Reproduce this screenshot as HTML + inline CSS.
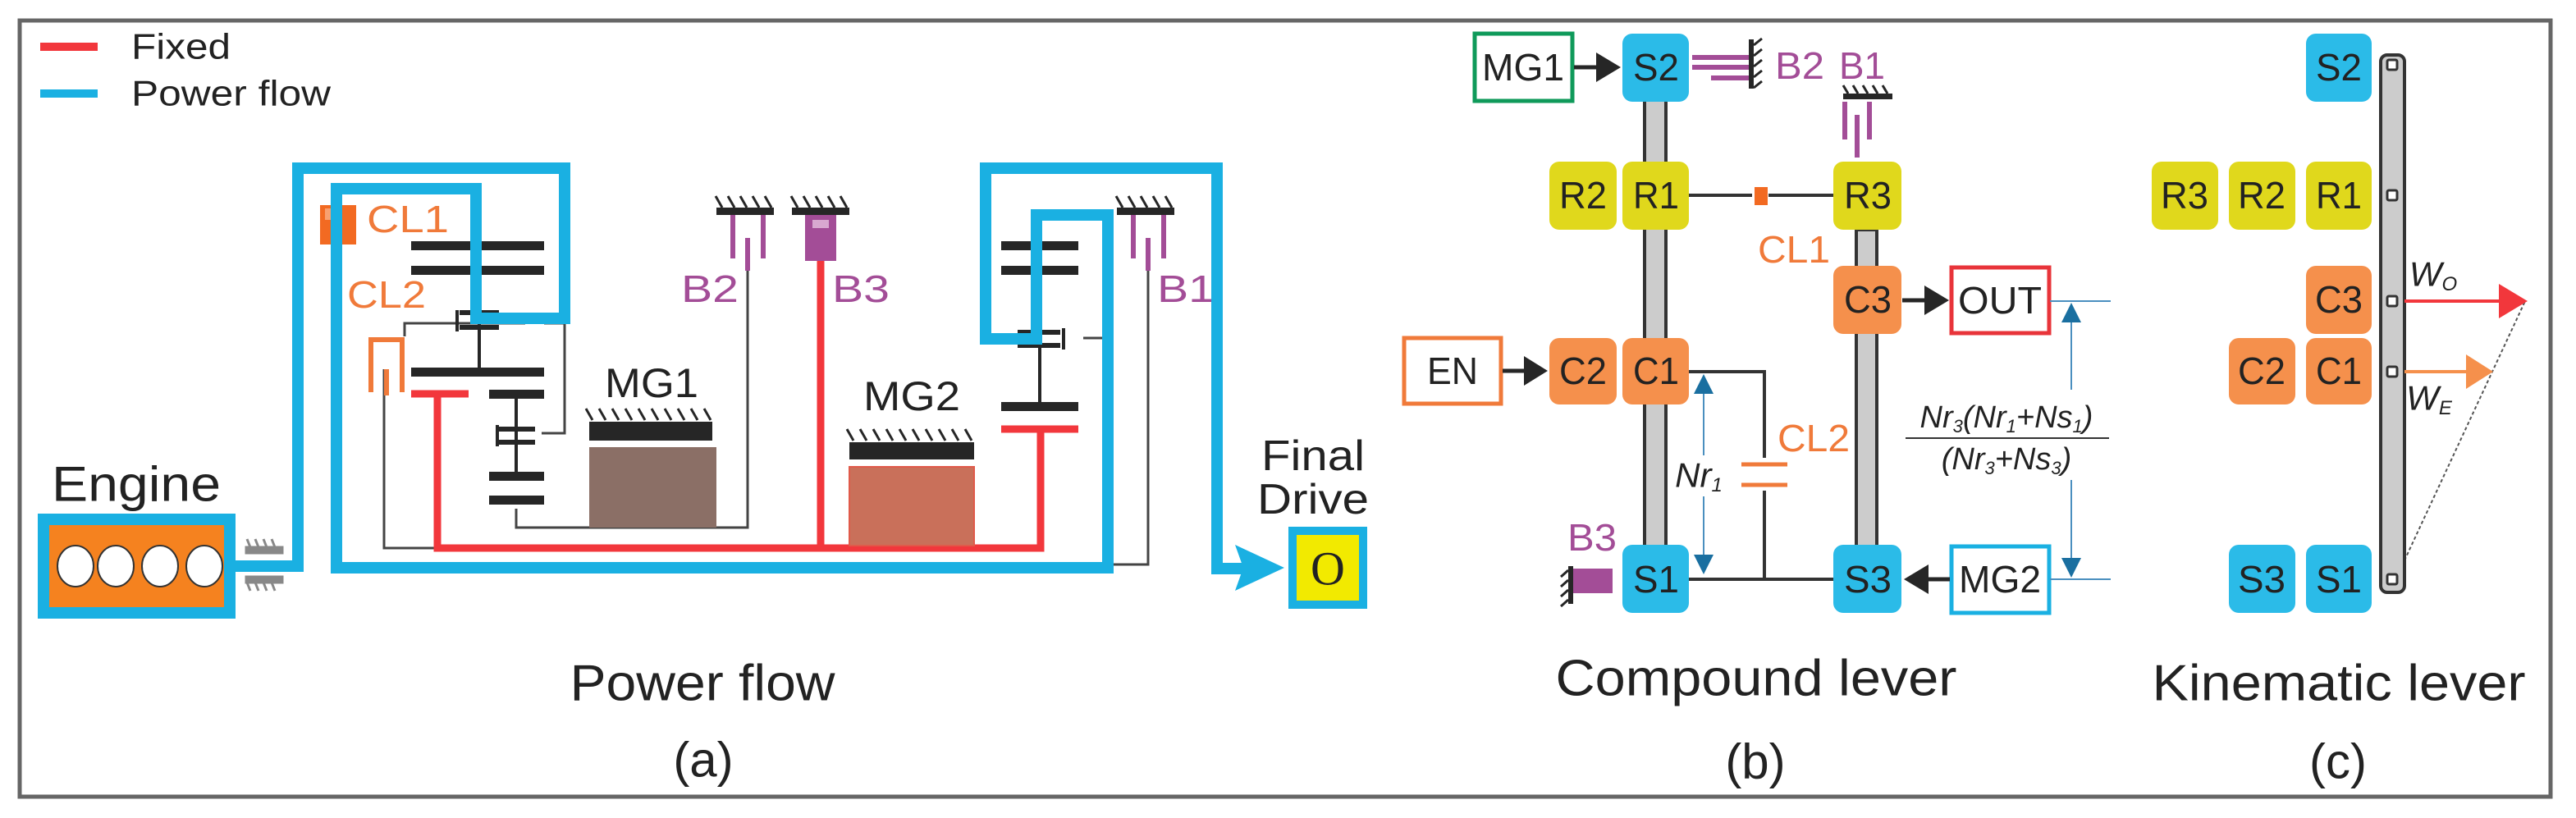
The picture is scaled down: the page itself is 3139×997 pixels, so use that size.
<!DOCTYPE html>
<html><head><meta charset="utf-8"><style>
html,body{margin:0;padding:0;background:#fff;}
svg{display:block}
text{font-family:"Liberation Sans",sans-serif;}
.n{font-size:46px;text-anchor:middle;dominant-baseline:central;fill:#222}
.lab{text-anchor:middle;dominant-baseline:central}
</style></head><body>
<svg width="3139" height="997" viewBox="0 0 3139 997" xmlns="http://www.w3.org/2000/svg">
<rect x="0" y="0" width="3139" height="997" fill="#fff"/>
<rect x="24" y="25" width="3084" height="946" fill="none" stroke="#666" stroke-width="5"/>

<!-- legend -->
<line x1="49" y1="57" x2="119" y2="57" stroke="#f2373c" stroke-width="10"/>
<line x1="49" y1="114" x2="119" y2="114" stroke="#1ab0e2" stroke-width="10"/>
<text x="160" y="57" class="lab" style="text-anchor:start;font-size:44px" textLength="121" lengthAdjust="spacingAndGlyphs" fill="#222">Fixed</text>
<text x="160" y="114" class="lab" style="text-anchor:start;font-size:44px" textLength="243" lengthAdjust="spacingAndGlyphs" fill="#222">Power flow</text>

<!-- thin black lines (a) -->
<g stroke="#444" stroke-width="3" fill="none">
<polyline points="493,410 493,394 640,394"/>
<polyline points="663,394 688,394 688,528 660,528"/>
<polyline points="468,450 468,668 533,668"/>
<polyline points="629,620 629,643 911,643 911,300"/>
<polyline points="1399,300 1399,688 1350,688"/>
<polyline points="1320,412 1350,412"/>
</g>

<!-- black gears (a) -->
<g fill="#262626">
<rect x="501" y="294" width="162" height="11"/>
<rect x="501" y="324" width="162" height="11"/>
<rect x="501" y="448" width="162" height="11"/>
<rect x="596" y="475" width="67" height="11"/>
<rect x="596" y="575" width="67" height="11"/>
<rect x="596" y="604" width="67" height="11"/>
<rect x="582" y="386" width="4" height="66"/>
<rect x="627" y="486" width="4" height="94"/>
<rect x="1220" y="294" width="94" height="11"/>
<rect x="1220" y="324" width="94" height="11"/>
<rect x="1220" y="490" width="94" height="11"/>
<rect x="1265" y="412" width="4" height="80"/>
<!-- planet pins -->
<rect x="560" y="378" width="48" height="6"/><rect x="560" y="396" width="48" height="6"/><rect x="555" y="378" width="4" height="26"/>
<rect x="608" y="520" width="44" height="6"/><rect x="608" y="536" width="44" height="6"/><rect x="604" y="518" width="4" height="26"/>
<rect x="1240" y="402" width="52" height="6"/><rect x="1240" y="418" width="52" height="6"/><rect x="1294" y="400" width="4" height="26"/>
</g>

<!-- red fixed -->
<g stroke="#f2373c" stroke-width="9" fill="none">
<line x1="501" y1="480" x2="571" y2="480"/>
<polyline points="533,480 533,668 1268,668 1268,523"/>
<line x1="1220" y1="523" x2="1314" y2="523"/>
<line x1="1000" y1="315" x2="1000" y2="668"/>
</g>

<!-- MG1 / MG2 -->
<g stroke="#262626" stroke-width="3">
<path d="M722,512 l-8,-14 M738,512 l-8,-14 M754,512 l-8,-14 M770,512 l-8,-14 M786,512 l-8,-14 M802,512 l-8,-14 M818,512 l-8,-14 M834,512 l-8,-14 M850,512 l-8,-14 M866,512 l-8,-14"/>
<path d="M1040,537 l-8,-14 M1056,537 l-8,-14 M1072,537 l-8,-14 M1088,537 l-8,-14 M1104,537 l-8,-14 M1120,537 l-8,-14 M1136,537 l-8,-14 M1152,537 l-8,-14 M1168,537 l-8,-14 M1184,537 l-8,-14"/>
</g>
<rect x="718" y="514" width="150" height="23" fill="#262626"/>
<rect x="718" y="545" width="155" height="98" fill="#8b6f66"/>
<rect x="1035" y="539" width="152" height="21" fill="#262626"/>
<rect x="1035" y="569" width="152" height="96" fill="#c9705a" stroke="#e05a4a" stroke-width="2"/>
<text x="794" y="467" class="lab" style="font-size:50px" textLength="114" lengthAdjust="spacingAndGlyphs" fill="#222">MG1</text>
<text x="1111" y="483" class="lab" style="font-size:50px" textLength="118" lengthAdjust="spacingAndGlyphs" fill="#222">MG2</text>

<!-- grounds B2 B3 B1 -->
<g fill="#262626"><rect x="873" y="253" width="70" height="9"/><rect x="965" y="253" width="70" height="9"/><rect x="1361" y="253" width="70" height="9"/></g>
<g stroke="#262626" stroke-width="3">
<path d="M880,253 l-8,-14 M895,253 l-8,-14 M910,253 l-8,-14 M925,253 l-8,-14 M940,253 l-8,-14"/>
<path d="M972,253 l-8,-14 M987,253 l-8,-14 M1002,253 l-8,-14 M1017,253 l-8,-14 M1032,253 l-8,-14"/>
<path d="M1368,253 l-8,-14 M1383,253 l-8,-14 M1398,253 l-8,-14 M1413,253 l-8,-14 M1428,253 l-8,-14"/>
</g>
<g stroke="#a34d97" stroke-width="6">
<line x1="893" y1="262" x2="893" y2="315"/><line x1="930" y1="262" x2="930" y2="315"/><line x1="911" y1="290" x2="911" y2="330"/>
<line x1="1381" y1="262" x2="1381" y2="315"/><line x1="1418" y1="262" x2="1418" y2="315"/><line x1="1399" y1="290" x2="1399" y2="330"/>
</g>
<rect x="981" y="262" width="38" height="56" fill="#a34d97"/>
<rect x="990" y="268" width="20" height="10" fill="#d8a8d0"/>
<text x="865" y="352" class="lab" style="font-size:46px" textLength="70" lengthAdjust="spacingAndGlyphs" fill="#a34d97">B2</text>
<text x="1049" y="352" class="lab" style="font-size:46px" textLength="70" lengthAdjust="spacingAndGlyphs" fill="#a34d97">B3</text>
<text x="1445" y="352" class="lab" style="font-size:46px" textLength="70" lengthAdjust="spacingAndGlyphs" fill="#a34d97">B1</text>

<!-- CL1 CL2 -->
<rect x="390" y="250" width="44" height="48" fill="#f26a22"/>
<rect x="396" y="254" width="12" height="14" fill="#f8a070"/>
<text x="497" y="267" class="lab" style="font-size:46px" textLength="100" lengthAdjust="spacingAndGlyphs" fill="#f07a3a">CL1</text>
<text x="471" y="359" class="lab" style="font-size:46px" textLength="96" lengthAdjust="spacingAndGlyphs" fill="#f07a3a">CL2</text>
<g stroke="#f07a3a" stroke-width="6" fill="none">
<polyline points="452,478 452,414 490,414 490,478"/>
<line x1="471" y1="450" x2="471" y2="482"/>
</g>

<!-- blue power flow -->
<g stroke="#1ab0e2" stroke-width="14" fill="none" stroke-linejoin="miter">
<polyline points="287,690 363,690 363,205 688,205 688,388 580,388 580,230 410,230 410,692 1350,692 1350,262 1263,262 1263,413 1201,413 1201,205 1483,205 1483,693 1520,693"/>
</g>
<polygon points="1505,664 1565,692 1505,720 1515,692" fill="#1ab0e2"/>

<!-- engine -->
<text x="166" y="590" class="lab" style="font-size:60px" textLength="206" lengthAdjust="spacingAndGlyphs" fill="#222">Engine</text>
<rect x="53" y="633" width="227" height="114" fill="#f5821f" stroke="#1ab0e2" stroke-width="14"/>
<g fill="#fff" stroke="#333" stroke-width="2">
<ellipse cx="92" cy="690" rx="22" ry="25"/><ellipse cx="141" cy="690" rx="22" ry="25"/><ellipse cx="195" cy="690" rx="22" ry="25"/><ellipse cx="249" cy="690" rx="22" ry="25"/>
</g>
<g stroke="#888" stroke-width="3">
<rect x="300" y="667" width="44" height="7" fill="#888"/>
<rect x="300" y="703" width="44" height="7" fill="#888"/>
<path d="M305,667 l-4,-10 M315,667 l-4,-10 M325,667 l-4,-10 M335,667 l-4,-10 M305,720 l-4,-10 M315,720 l-4,-10 M325,720 l-4,-10 M335,720 l-4,-10"/>
</g>

<!-- final drive -->
<text x="1600" y="556" class="lab" style="font-size:52px" textLength="126" lengthAdjust="spacingAndGlyphs" fill="#222">Final</text>
<text x="1600" y="609" class="lab" style="font-size:52px" textLength="136" lengthAdjust="spacingAndGlyphs" fill="#222">Drive</text>
<rect x="1575" y="647" width="86" height="90" fill="#f2ea00" stroke="#1ab0e2" stroke-width="10"/>
<text x="1618" y="693" class="lab" style="font-size:58px;font-family:'Liberation Serif',serif" fill="#222">O</text>

<text x="856" y="833" class="lab" style="font-size:62px" textLength="323" lengthAdjust="spacingAndGlyphs" fill="#222">Power flow</text>
<text x="857" y="926" class="lab" style="font-size:60px" fill="#222">(a)</text>

<!-- ===== (b) compound lever ===== -->
<rect x="2004" y="120" width="26" height="548" fill="#ccc" stroke="#333" stroke-width="4"/>
<rect x="2262" y="280" width="25" height="388" fill="#ccc" stroke="#333" stroke-width="4"/>
<g stroke="#333" stroke-width="4" fill="none">
<line x1="2058" y1="238" x2="2234" y2="238"/>
<polyline points="2058,453 2150,453 2150,706"/>
<line x1="2058" y1="706" x2="2234" y2="706"/>
</g>
<rect x="2135" y="230" width="20" height="18" fill="#fff"/>
<rect x="2138" y="228" width="16" height="22" fill="#f26a22"/>
<rect x="2126" y="558" width="50" height="40" fill="#fff"/>
<g stroke="#f07a3a" stroke-width="5"><line x1="2122" y1="566" x2="2178" y2="566"/><line x1="2122" y1="591" x2="2178" y2="591"/></g>
<text x="2186" y="304" class="lab" style="font-size:46px" textLength="88" lengthAdjust="spacingAndGlyphs" fill="#f07a3a">CL1</text>
<text x="2210" y="534" class="lab" style="font-size:46px" textLength="88" lengthAdjust="spacingAndGlyphs" fill="#f07a3a">CL2</text>

<!-- B2 B1 B3 -->
<g stroke="#a34d97" stroke-width="6">
<line x1="2062" y1="70" x2="2131" y2="70"/><line x1="2062" y1="82" x2="2131" y2="82"/><line x1="2085" y1="95" x2="2131" y2="95"/>
<line x1="2248" y1="124" x2="2248" y2="170"/><line x1="2278" y1="124" x2="2278" y2="170"/><line x1="2263" y1="140" x2="2263" y2="192"/>
</g>
<rect x="2131" y="48" width="6" height="60" fill="#262626"/>
<path d="M2137,55 l10,-8 M2137,68 l10,-8 M2137,81 l10,-8 M2137,94 l10,-8 M2137,107 l10,-8" stroke="#262626" stroke-width="3"/>
<rect x="2246" y="114" width="60" height="7" fill="#262626"/>
<path d="M2252,114 l-6,-10 M2264,114 l-6,-10 M2276,114 l-6,-10 M2288,114 l-6,-10 M2300,114 l-6,-10" stroke="#262626" stroke-width="3"/>
<text x="2193" y="80" class="lab" style="font-size:46px" textLength="60" lengthAdjust="spacingAndGlyphs" fill="#a34d97">B2</text>
<text x="2269" y="80" class="lab" style="font-size:46px" textLength="56" lengthAdjust="spacingAndGlyphs" fill="#a34d97">B1</text>
<rect x="1911" y="690" width="6" height="46" fill="#262626"/>
<path d="M1911,695 l-9,8 M1911,707 l-9,8 M1911,719 l-9,8 M1911,731 l-9,8" stroke="#262626" stroke-width="3"/>
<rect x="1917" y="693" width="48" height="30" fill="#a34d97"/>
<text x="1940" y="655" class="lab" style="font-size:46px" textLength="60" lengthAdjust="spacingAndGlyphs" fill="#a34d97">B3</text>

<!-- nodes b -->
<g>
<rect x="1977" y="41" width="81" height="83" rx="12" fill="#2bbbe8"/>
<rect x="1888" y="197" width="82" height="83" rx="12" fill="#e0d81c"/>
<rect x="1977" y="197" width="81" height="83" rx="12" fill="#e0d81c"/>
<rect x="2234" y="197" width="83" height="83" rx="12" fill="#e0d81c"/>
<rect x="2234" y="324" width="83" height="83" rx="12" fill="#f5904c"/>
<rect x="1888" y="412" width="82" height="81" rx="12" fill="#f5904c"/>
<rect x="1977" y="412" width="81" height="81" rx="12" fill="#f5904c"/>
<rect x="1977" y="664" width="81" height="83" rx="12" fill="#2bbbe8"/>
<rect x="2234" y="664" width="83" height="83" rx="12" fill="#2bbbe8"/>
</g>
<text x="2018" y="82" class="n" textLength="56" lengthAdjust="spacingAndGlyphs">S2</text>
<text x="1929" y="238" class="n" textLength="58" lengthAdjust="spacingAndGlyphs">R2</text>
<text x="2018" y="238" class="n" textLength="56" lengthAdjust="spacingAndGlyphs">R1</text>
<text x="2276" y="238" class="n" textLength="58" lengthAdjust="spacingAndGlyphs">R3</text>
<text x="2276" y="365" class="n" textLength="58" lengthAdjust="spacingAndGlyphs">C3</text>
<text x="1929" y="452" class="n" textLength="58" lengthAdjust="spacingAndGlyphs">C2</text>
<text x="2018" y="452" class="n" textLength="56" lengthAdjust="spacingAndGlyphs">C1</text>
<text x="2018" y="706" class="n" textLength="56" lengthAdjust="spacingAndGlyphs">S1</text>
<text x="2276" y="706" class="n" textLength="58" lengthAdjust="spacingAndGlyphs">S3</text>

<!-- boxes -->
<rect x="1797" y="41" width="119" height="82" fill="#fff" stroke="#0f9a5a" stroke-width="5"/>
<text x="1856" y="82" class="n" textLength="100" lengthAdjust="spacingAndGlyphs">MG1</text>
<rect x="2378" y="326" width="119" height="80" fill="#fff" stroke="#e8343a" stroke-width="5"/>
<text x="2437" y="366" class="n" textLength="102" lengthAdjust="spacingAndGlyphs">OUT</text>
<rect x="1711" y="412" width="118" height="80" fill="#fff" stroke="#f07a3a" stroke-width="5"/>
<text x="1770" y="452" class="n" textLength="62" lengthAdjust="spacingAndGlyphs">EN</text>
<rect x="2378" y="666" width="119" height="81" fill="#fff" stroke="#1ab0e2" stroke-width="5"/>
<text x="2437" y="706" class="n" textLength="100" lengthAdjust="spacingAndGlyphs">MG2</text>
<!-- arrows -->
<g stroke="#262626" stroke-width="5"><line x1="1918" y1="82" x2="1950" y2="82"/><line x1="1831" y1="452" x2="1862" y2="452"/><line x1="2318" y1="366" x2="2350" y2="366"/><line x1="2376" y1="706" x2="2345" y2="706"/></g>
<g fill="#262626">
<polygon points="1945,64 1975,82 1945,100"/>
<polygon points="1857,434 1886,452 1857,470"/>
<polygon points="2345,348 2375,366 2345,384"/>
<polygon points="2350,688 2320,706 2350,724"/>
</g>

<!-- dimensions -->
<g stroke="#4a8fbf" stroke-width="2"><line x1="2076" y1="470" x2="2076" y2="690"/><line x1="2498" y1="367" x2="2572" y2="367"/><line x1="2498" y1="706" x2="2572" y2="706"/><line x1="2524" y1="380" x2="2524" y2="690"/></g>
<g fill="#1a6fa0">
<polygon points="2064,480 2076,456 2088,480"/><polygon points="2064,676 2076,700 2088,676"/>
<polygon points="2512,393 2524,369 2536,393"/><polygon points="2512,680 2524,704 2536,680"/>
</g>
<rect x="2042" y="555" width="66" height="50" fill="#fff"/>
<text x="2070" y="579" class="lab" style="font-size:42px;font-style:italic" fill="#222">Nr<tspan font-size="24" dy="12">1</tspan></text>
<rect x="2322" y="475" width="250" height="110" fill="#fff"/>
<text x="2445" y="509" class="lab" style="font-size:38px;font-style:italic" fill="#222">Nr<tspan font-size="22" dy="10">3</tspan><tspan dy="-10">(Nr</tspan><tspan font-size="22" dy="10">1</tspan><tspan dy="-10">+Ns</tspan><tspan font-size="22" dy="10">1</tspan><tspan dy="-10">)</tspan></text>
<line x1="2322" y1="534" x2="2570" y2="534" stroke="#333" stroke-width="2"/>
<text x="2445" y="560" class="lab" style="font-size:38px;font-style:italic" fill="#222">(Nr<tspan font-size="22" dy="10">3</tspan><tspan dy="-10">+Ns</tspan><tspan font-size="22" dy="10">3</tspan><tspan dy="-10">)</tspan></text>

<text x="2140" y="827" class="lab" style="font-size:62px" textLength="489" lengthAdjust="spacingAndGlyphs" fill="#222">Compound lever</text>
<text x="2139" y="928" class="lab" style="font-size:60px" fill="#222">(b)</text>

<!-- ===== (c) kinematic lever ===== -->
<line x1="2930" y1="683" x2="3077" y2="367" stroke="#555" stroke-width="2" stroke-dasharray="4,3"/>
<rect x="2901" y="67" width="29" height="655" rx="8" fill="#ccc" stroke="#333" stroke-width="4"/>
<g fill="#fff" stroke="#333" stroke-width="3">
<rect x="2909" y="73" width="12" height="12" rx="2"/><rect x="2909" y="232" width="12" height="12" rx="2"/><rect x="2909" y="361" width="12" height="12" rx="2"/><rect x="2909" y="447" width="12" height="12" rx="2"/><rect x="2909" y="700" width="12" height="12" rx="2"/>
</g>
<g>
<rect x="2810" y="41" width="80" height="83" rx="12" fill="#2bbbe8"/>
<rect x="2622" y="197" width="81" height="83" rx="12" fill="#e0d81c"/>
<rect x="2716" y="197" width="81" height="83" rx="12" fill="#e0d81c"/>
<rect x="2810" y="197" width="80" height="83" rx="12" fill="#e0d81c"/>
<rect x="2810" y="324" width="80" height="83" rx="12" fill="#f5904c"/>
<rect x="2716" y="412" width="81" height="81" rx="12" fill="#f5904c"/>
<rect x="2810" y="412" width="80" height="81" rx="12" fill="#f5904c"/>
<rect x="2716" y="664" width="81" height="83" rx="12" fill="#2bbbe8"/>
<rect x="2810" y="664" width="80" height="83" rx="12" fill="#2bbbe8"/>
</g>
<text x="2850" y="82" class="n" textLength="56" lengthAdjust="spacingAndGlyphs">S2</text>
<text x="2662" y="238" class="n" textLength="58" lengthAdjust="spacingAndGlyphs">R3</text>
<text x="2756" y="238" class="n" textLength="58" lengthAdjust="spacingAndGlyphs">R2</text>
<text x="2850" y="238" class="n" textLength="56" lengthAdjust="spacingAndGlyphs">R1</text>
<text x="2850" y="365" class="n" textLength="58" lengthAdjust="spacingAndGlyphs">C3</text>
<text x="2756" y="452" class="n" textLength="58" lengthAdjust="spacingAndGlyphs">C2</text>
<text x="2850" y="452" class="n" textLength="56" lengthAdjust="spacingAndGlyphs">C1</text>
<text x="2756" y="706" class="n" textLength="58" lengthAdjust="spacingAndGlyphs">S3</text>
<text x="2850" y="706" class="n" textLength="56" lengthAdjust="spacingAndGlyphs">S1</text>
<line x1="2930" y1="367" x2="3050" y2="367" stroke="#f2373c" stroke-width="4"/>
<polygon points="3045,346 3080,367 3045,388" fill="#f2373c"/>
<line x1="2930" y1="453" x2="3010" y2="453" stroke="#f5904c" stroke-width="4"/>
<polygon points="3005,432 3038,453 3005,474" fill="#f5904c"/>
<text x="2965" y="334" class="lab" style="font-size:42px;font-style:italic" fill="#222">W<tspan font-size="24" dy="12">O</tspan></text>
<text x="2960" y="485" class="lab" style="font-size:42px;font-style:italic" fill="#222">W<tspan font-size="24" dy="12">E</tspan></text>
<text x="2850" y="833" class="lab" style="font-size:62px" textLength="455" lengthAdjust="spacingAndGlyphs" fill="#222">Kinematic lever</text>
<text x="2849" y="928" class="lab" style="font-size:60px" fill="#222">(c)</text>
</svg>
</body></html>
